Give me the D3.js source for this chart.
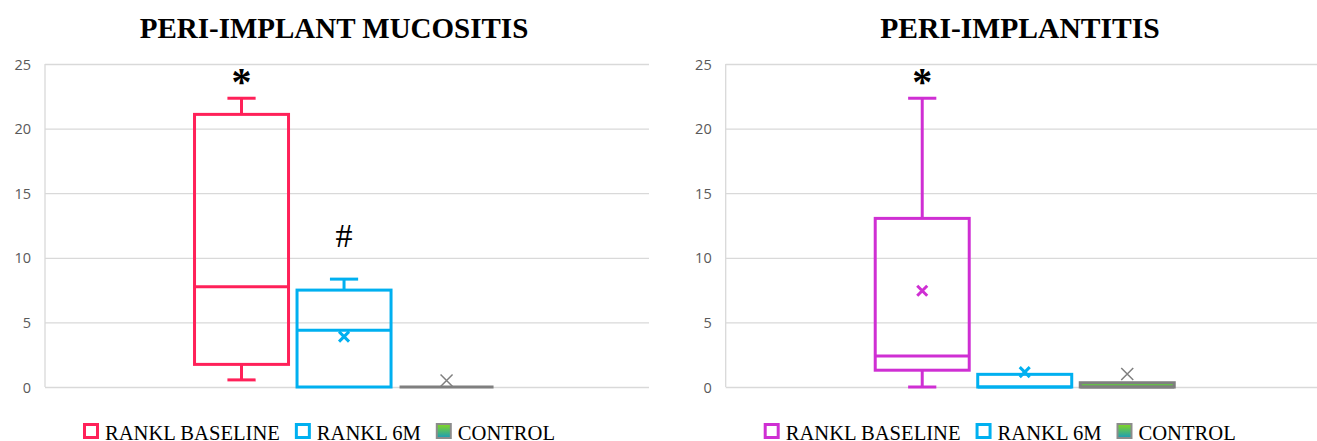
<!DOCTYPE html>
<html>
<head>
<meta charset="utf-8">
<script src="https://cdn.jsdelivr.net/npm/d3@7"></script>
<style>
  body { margin: 0; background: #fff; }
  .title { font-family: 'Liberation Serif', 'Times New Roman', serif; font-weight: 700; font-size: 29px; }
  .legend text { font-family: 'Liberation Serif', 'Times New Roman', serif; font-size: 20.6px; fill: #000; }
  .y-axis text { font-family: 'Open Sans', sans-serif; font-size: 14.5px; fill: #595959; }
</style>
</head>
<body>
<div id="chart"></div>
<script>
// series / groups
var series = ['RANKL BASELINE', 'RANKL 6M', 'CONTROL']
var yTicks = [0, 5, 10, 15, 20, 25]

// peri-implant mucositis
var mucoMin = [0.55, 0, 0]
var mucoQ1 = [1.75, 0, 0]
var mucoMedian = [7.75, 4.4, 0]
var mucoQ3 = [21.1, 7.5, 0]
var mucoMax = [22.35, 8.35, 0]
var mucoMean = [null, 3.9, 0.5]
var mucoMarks = ['*', '#', '']

// peri-implantitis
var periMin = [0, 0, 0]
var periQ1 = [1.3, 0, 0]
var periMedian = [2.4, 0, 0]
var periQ3 = [13.05, 0.98, 0.33]
var periMax = [22.35, 0.98, 0.33]
var periMean = [7.45, 1.15, 1.0]
var periMarks = ['*', '', '']

var width = 1317
var height = 441

var svg = d3
  .select('#chart')
  .append('svg')
  .attr('width', width)
  .attr('height', height)

var defs = svg.append('defs')
var grad = defs
  .append('linearGradient')
  .attr('id', 'ctrl-grad')
  .attr('x1', 0)
  .attr('y1', 0)
  .attr('x2', 0)
  .attr('y2', 1)
grad.append('stop').attr('offset', '0%').attr('stop-color', '#86d91c')
grad.append('stop').attr('offset', '100%').attr('stop-color', '#1a9bbd')

function buildRows(mins, q1s, meds, q3s, maxs, means, marks) {
  return series.map(function(s, i) {
    return {
      name: s,
      min: mins[i],
      q1: q1s[i],
      median: meds[i],
      q3: q3s[i],
      max: maxs[i],
      mean: means[i],
      mark: marks[i]
    }
  })
}

var panels = [
  {
    title: 'PERI-IMPLANT MUCOSITIS',
    titleX: 334,
    titleSize: 29,
    dx: 0,
    colors: ['#ff2159', '#00b0f0', '#7f7f7f'],
    rows: buildRows(mucoMin, mucoQ1, mucoMedian, mucoQ3, mucoMax, mucoMean, mucoMarks)
  },
  {
    title: 'PERI-IMPLANTITIS',
    titleX: 1020,
    titleSize: 29.6,
    dx: 680.7,
    colors: ['#cf2fd3', '#00b0f0', '#7f7f7f'],
    rows: buildRows(periMin, periQ1, periMedian, periQ3, periMax, periMean, periMarks)
  }
]

var plotLeft = 45
var plotRight = 649
var plotTop = 64
var plotBottom = 387

var yScale = d3
  .scaleLinear()
  .domain([0, 25])
  .range([plotBottom, plotTop])

panels.forEach(function(p) {
  var g = svg.append('g').attr('transform', 'translate(' + p.dx + ',0)')

  g.append('text')
    .attr('class', 'title')
    .attr('x', p.titleX - p.dx)
    .attr('y', 38)
    .attr('text-anchor', 'middle')
    .style('font-size', p.titleSize + 'px')
    .text(p.title)

  // gridlines + labels
  var yAxis = d3
    .axisLeft(yScale)
    .tickValues(yTicks)
    .tickSize(-(plotRight - plotLeft))
    .tickPadding(14)
    .tickFormat(d3.format('d'))

  var ax = g
    .append('g')
    .attr('class', 'y-axis')
    .attr('transform', 'translate(' + plotLeft + ',0)')
    .call(yAxis)
  ax.select('.domain').remove()
  ax.selectAll('line').attr('stroke', '#d9d9d9').attr('stroke-width', 1.3)
  ax.selectAll('text').attr('dy', '0.35em')

  g.append('line')
    .attr('x1', plotLeft)
    .attr('x2', plotLeft)
    .attr('y1', plotTop)
    .attr('y2', plotBottom)
    .attr('stroke', '#d9d9d9')
    .attr('stroke-width', 1.3)

  // one category holding the three series
  var catScale = d3
    .scaleBand()
    .domain(['all'])
    .range([plotLeft, plotRight])
    .paddingInner(0)
    .paddingOuter(0.482)
    .align(0.49)

  var seriesScale = d3
    .scaleBand()
    .domain(series)
    .range([catScale('all'), catScale('all') + catScale.bandwidth()])
    .paddingInner(0.083)
    .paddingOuter(0.0415)

  var bw = seriesScale.bandwidth()

  var boxes = g
    .selectAll('.box')
    .data(p.rows)
    .enter()
    .append('g')
    .attr('class', 'box')
    .attr('transform', function(d) {
      return 'translate(' + seriesScale(d.name) + ',0)'
    })

  boxes.each(function(d, i) {
    var b = d3.select(this)
    var color = p.colors[i]
    var cx = bw / 2
    var cap = bw * 0.3

    // upper whisker
    if (d.max > d.q3) {
      b.append('line')
        .attr('x1', cx)
        .attr('x2', cx)
        .attr('y1', yScale(d.q3))
        .attr('y2', yScale(d.max))
        .attr('stroke', color)
        .attr('stroke-width', 3)
      b.append('line')
        .attr('x1', cx - cap / 2)
        .attr('x2', cx + cap / 2)
        .attr('y1', yScale(d.max))
        .attr('y2', yScale(d.max))
        .attr('stroke', color)
        .attr('stroke-width', 3)
    }
    // lower whisker
    if (d.min < d.q1) {
      b.append('line')
        .attr('x1', cx)
        .attr('x2', cx)
        .attr('y1', yScale(d.q1))
        .attr('y2', yScale(d.min))
        .attr('stroke', color)
        .attr('stroke-width', 3)
      b.append('line')
        .attr('x1', cx - cap / 2)
        .attr('x2', cx + cap / 2)
        .attr('y1', yScale(d.min))
        .attr('y2', yScale(d.min))
        .attr('stroke', color)
        .attr('stroke-width', 3)
    }

    b.append('rect')
      .attr('x', 0)
      .attr('width', bw)
      .attr('y', yScale(d.q3))
      .attr('height', Math.max(0, yScale(d.q1) - yScale(d.q3)))
      .attr('fill', d.name === 'CONTROL' ? '#5fd13a' : 'none')
      .attr('stroke', color)
      .attr('stroke-width', 3)

    b.append('line')
      .attr('x1', 0)
      .attr('x2', bw)
      .attr('y1', yScale(d.median))
      .attr('y2', yScale(d.median))
      .attr('stroke', color)
      .attr('stroke-width', 3)

    if (d.mean !== null) {
      var thin = d.name === 'CONTROL'
      var s = thin ? 6 : 5
      var my = yScale(d.mean)
      b.append('path')
        .attr(
          'd',
          'M' + (cx - s) + ',' + (my - s) + 'L' + (cx + s) + ',' + (my + s) +
            'M' + (cx - s) + ',' + (my + s) + 'L' + (cx + s) + ',' + (my - s)
        )
        .attr('stroke', color)
        .attr('stroke-width', thin ? 1.5 : 3)
        .attr('fill', 'none')
    }

    if (d.mark === '*') {
      b.append('text')
        .attr('x', cx)
        .attr('y', yScale(d.max) - 3)
        .attr('text-anchor', 'middle')
        .attr('font-family', 'Liberation Serif, serif')
        .attr('font-weight', 700)
        .attr('font-size', 40)
        .text('*')
    } else if (d.mark === '#') {
      b.append('text')
        .attr('x', cx)
        .attr('y', yScale(d.max) - 32)
        .attr('text-anchor', 'middle')
        .attr('font-family', 'Liberation Serif, serif')
        .attr('font-size', 34)
        .text('#')
    }
  })

  // legend
  var legend = g.append('g').attr('class', 'legend')
  var lx = 83
  series.forEach(function(s, i) {
    var item = legend.append('g').attr('transform', 'translate(' + lx + ',0)')
    if (s === 'CONTROL') {
      item.append('rect')
        .attr('x', 1)
        .attr('y', 424)
        .attr('width', 14)
        .attr('height', 14)
        .attr('fill', 'url(#ctrl-grad)')
        .attr('stroke', '#8c8c8c')
        .attr('stroke-width', 2)
    } else {
      item.append('rect')
        .attr('x', 1.5)
        .attr('y', 424.5)
        .attr('width', 13)
        .attr('height', 13)
        .attr('fill', 'none')
        .attr('stroke', p.colors[i])
        .attr('stroke-width', 3)
    }
    var t = item.append('text').attr('x', 22).attr('y', 439.5).text(s)
    lx += 22 + t.node().getComputedTextLength() + 15
  })
})
</script>
</body>
</html>
